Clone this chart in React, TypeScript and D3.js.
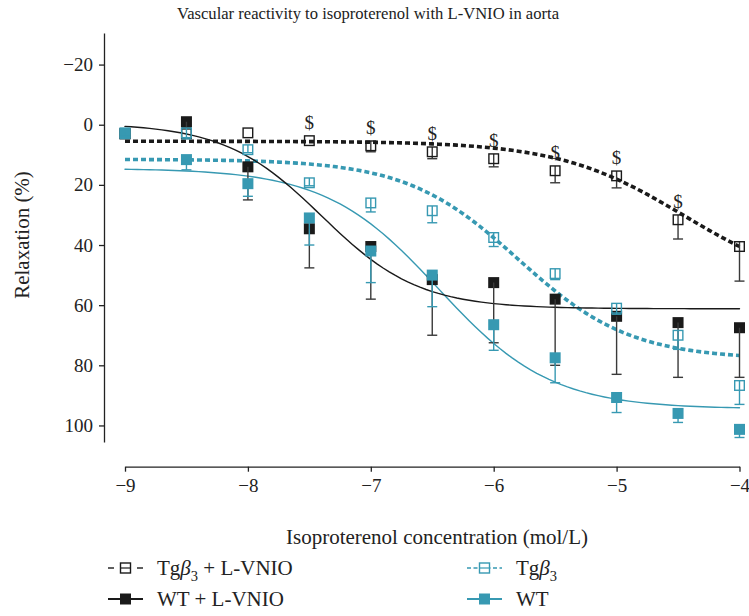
import React, { useEffect, useRef } from 'react';
import * as d3 from 'd3';

const concentrations = [-9, -8.5, -8, -7.5, -7, -6.5, -6, -5.5, -5, -4.5, -4];
const xTicks = [-9, -8, -7, -6, -5, -4];
const yTicks = [-20, 0, 20, 40, 60, 80, 100];

// Tgβ3 + L-VNIO (open black)
const tgLvnioMean = [3, 3, 2.7, 5.3, 7, 9, 11.3, 15.3, 17, 31.6, 40.5];
const tgLvnioSem = [0, 0, 0, 0, 2, 2.3, 2.7, 4, 4, 6.4, 11.5];
// Tgβ3 (open teal)
const tgMean = [3, 2.7, 8.3, 19.3, 26, 28.6, 37.5, 49.5, 61, 70, 86.7];
const tgSem = [1, 2, 1, 1, 3, 4, 3, 2, 2, 4.7, 6.3];
// WT + L-VNIO (filled black)
const wtLvnioMean = [3, -1, 14, 34.6, 40.5, 51.5, 52.5, 58, 63.7, 65.8, 67.5];
const wtLvnioSem = [1, 2, 11, 13, 17.5, 18.5, 20, 22, 19.3, 18.2, 16.5];
// WT (filled teal)
const wtMean = [2.7, 11.6, 19.6, 31, 42, 50, 66.5, 77.5, 90.7, 96, 101.3];
const wtSem = [1, 3.4, 4.2, 9, 10.5, 10.5, 8.5, 8.3, 5, 3, 2.7];

// sigmoid fit parameters: Tgβ3+L-VNIO, Tgβ3, WT+L-VNIO, WT
const fitTop = [5.5, 11.5, -0.5, 14.5];
const fitBottom = [55, 78, 61.2, 94.5];
const fitLogEC50 = [-4.45, -5.8, -7.4, -6.45];
const fitHill = [0.85, 0.95, 1.1, 0.95];

// "$" markers above Tgβ3 + L-VNIO
const dollarX = [-7.5, -7, -6.5, -6, -5.5, -5, -4.5];

const BLACK = '#1a1a1a';
const TEAL = '#3799b2';
const FONT = "'Liberation Serif'";

export default function App() {
  const ref = useRef<SVGSVGElement>(null);

  useEffect(() => {
    if (!ref.current) return;
    const svg = d3.select(ref.current);
    svg.selectAll('*').remove();

    const x = d3.scaleLinear().domain([-9, -4]).range([125, 739.5]);
    const y = d3.scaleLinear().domain([-30.5, 105.5]).range([33, 442]);
    const minus = (v: number) => (v < 0 ? '\u2212' + Math.abs(v) : String(v));

    // Y axis
    const yAxis = svg.append('g')
      .attr('transform', 'translate(104,0)')
      .call(d3.axisLeft(y).tickValues(yTicks).tickSize(5).tickSizeOuter(0).tickPadding(6)
        .tickFormat(d => minus(d as number)));
    yAxis.attr('font-family', FONT).attr('font-size', 19);
    yAxis.selectAll('text').attr('fill', '#222');
    yAxis.selectAll('line, path').attr('stroke', '#222').attr('stroke-width', 1.3);

    // X axis
    const xAxis = svg.append('g')
      .attr('transform', 'translate(0,466.7)')
      .call(d3.axisBottom(x).tickValues(xTicks).tickSize(5).tickSizeOuter(0).tickPadding(7)
        .tickFormat(d => minus(d as number)));
    xAxis.attr('font-family', FONT).attr('font-size', 19);
    xAxis.selectAll('text').attr('fill', '#222');
    xAxis.selectAll('line, path').attr('stroke', '#222').attr('stroke-width', 1.3);

    // Fit curves
    const xs = d3.range(-9, -3.999, 0.05);
    const curve = (i: number) => (xv: number) =>
      fitTop[i] + (fitBottom[i] - fitTop[i]) / (1 + Math.pow(10, (fitLogEC50[i] - xv) * fitHill[i]));
    const line = d3.line<number>();
    const fitStyle = [
      { color: BLACK, width: 3.6, dash: '5,3' },
      { color: TEAL, width: 3.6, dash: '5,3' },
      { color: BLACK, width: 1.4, dash: null },
      { color: TEAL, width: 1.4, dash: null },
    ];
    [1, 3, 2, 0].forEach(i => {
      const f = curve(i);
      svg.append('path')
        .attr('d', line(xs.map(v => [x(v), y(f(v))] as [number, number]) as any))
        .attr('fill', 'none')
        .attr('stroke', fitStyle[i].color)
        .attr('stroke-width', fitStyle[i].width)
        .attr('stroke-dasharray', fitStyle[i].dash)
        .attr('stroke-linecap', fitStyle[i].dash ? 'butt' : 'round');
    });

    // Points + error bars
    const sq = 11;
    const drawSeries = (mean: number[], sem: number[], color: string, barColor: string, open: boolean) => {
      const g = svg.append('g');
      concentrations.forEach((c, k) => {
        const cx = x(c);
        const cy = y(mean[k]);
        if (!open) {
          g.append('rect').attr('x', cx - sq / 2).attr('y', cy - sq / 2)
            .attr('width', sq).attr('height', sq).attr('fill', color);
        }
        if (sem[k] > 0) {
          const ey = y(mean[k] + sem[k]);
          g.append('line').attr('x1', cx).attr('x2', cx)
            .attr('y1', open ? cy - sq / 2 + 0.7 : cy).attr('y2', ey)
            .attr('stroke', barColor).attr('stroke-width', 1.4);
          g.append('line').attr('x1', cx - 5).attr('x2', cx + 5)
            .attr('y1', ey).attr('y2', ey)
            .attr('stroke', barColor).attr('stroke-width', 1.4);
        }
        if (open) {
          g.append('rect').attr('x', cx - sq / 2 + 0.7).attr('y', cy - sq / 2 + 0.7)
            .attr('width', sq - 1.4).attr('height', sq - 1.4)
            .attr('fill', 'none').attr('stroke', color).attr('stroke-width', 1.4);
        }
      });
    };
    drawSeries(wtLvnioMean, wtLvnioSem, BLACK, '#3a3a3a', false);
    drawSeries(tgLvnioMean, tgLvnioSem, BLACK, '#3a3a3a', true);
    drawSeries(tgMean, tgSem, TEAL, TEAL, true);
    drawSeries(wtMean, wtSem, TEAL, TEAL, false);

    // $ markers
    svg.append('g').selectAll('text')
      .data(dollarX)
      .enter()
      .append('text')
      .attr('x', d => x(d))
      .attr('y', d => y(tgLvnioMean[concentrations.indexOf(d)]) - 12)
      .attr('text-anchor', 'middle')
      .attr('font-family', FONT)
      .attr('font-size', 19)
      .attr('fill', '#222')
      .text('$');

    // Titles
    svg.append('text')
      .attr('x', 368).attr('y', 19)
      .attr('text-anchor', 'middle')
      .attr('font-family', FONT).attr('font-size', 16.6).attr('fill', '#222')
      .text('Vascular reactivity to isoproterenol with L-VNIO in aorta');
    svg.append('text')
      .attr('x', 437).attr('y', 544)
      .attr('text-anchor', 'middle')
      .attr('font-family', FONT).attr('font-size', 21).attr('fill', '#222')
      .text('Isoproterenol concentration (mol/L)');
    svg.append('text')
      .attr('transform', 'translate(29,235) rotate(-90)')
      .attr('text-anchor', 'middle')
      .attr('font-family', FONT).attr('font-size', 21).attr('fill', '#222')
      .text('Relaxation (%)');

    // Legend
    const legend = [
      { lx: 108, ly: 568, color: BLACK, open: true, dash: 'split', label: 'tgl' },
      { lx: 108, ly: 599, color: BLACK, open: false, dash: null, label: 'WT + L-VNIO' },
      { lx: 467, ly: 568, color: TEAL, open: true, dash: '4,2.5', label: 'tg' },
      { lx: 467, ly: 599, color: TEAL, open: false, dash: null, label: 'WT' },
    ];
    legend.forEach(item => {
      const g = svg.append('g');
      const w = 35;
      const mid = item.lx + w / 2;
      if (item.dash === 'split') {
        [[item.lx, item.lx + 6], [item.lx + w - 6, item.lx + w]].forEach(([a, b]) => {
          g.append('line').attr('x1', a).attr('x2', b)
            .attr('y1', item.ly).attr('y2', item.ly)
            .attr('stroke', item.color).attr('stroke-width', 1.4);
        });
      } else {
        g.append('line').attr('x1', item.lx).attr('x2', item.lx + w)
          .attr('y1', item.ly).attr('y2', item.ly)
          .attr('stroke', item.color).attr('stroke-width', item.open ? 1.4 : 2.2)
          .attr('stroke-dasharray', item.dash);
      }
      if (item.open) {
        g.append('rect').attr('x', mid - 5).attr('y', item.ly - 5)
          .attr('width', 10).attr('height', 10)
          .attr('fill', 'white').attr('stroke', item.color).attr('stroke-width', 1.4);
        g.append('line').attr('x1', mid - 5).attr('x2', mid + 5)
          .attr('y1', item.ly).attr('y2', item.ly)
          .attr('stroke', item.color).attr('stroke-width', 1.2);
      } else {
        g.append('rect').attr('x', mid - 5.5).attr('y', item.ly - 5.5)
          .attr('width', 11).attr('height', 11).attr('fill', item.color);
      }
      const t = g.append('text')
        .attr('x', item.lx + 49).attr('y', item.ly + 7)
        .attr('font-family', FONT).attr('font-size', 21).attr('fill', '#222');
      if (item.label === 'tgl' || item.label === 'tg') {
        t.append('tspan').text('Tg');
        t.append('tspan').attr('font-style', 'italic').text('\u03b2');
        t.append('tspan').attr('dy', 6).attr('font-size', 14.5).text('3');
        if (item.label === 'tgl') t.append('tspan').attr('dy', -6).text(' + L-VNIO');
      } else {
        t.text(item.label);
      }
    });
  }, []);

  return (
    <svg
      ref={ref}
      width={749}
      height={616}
      style={{ position: 'absolute', left: 0, top: 0, background: 'white' }}
    />
  );
}
